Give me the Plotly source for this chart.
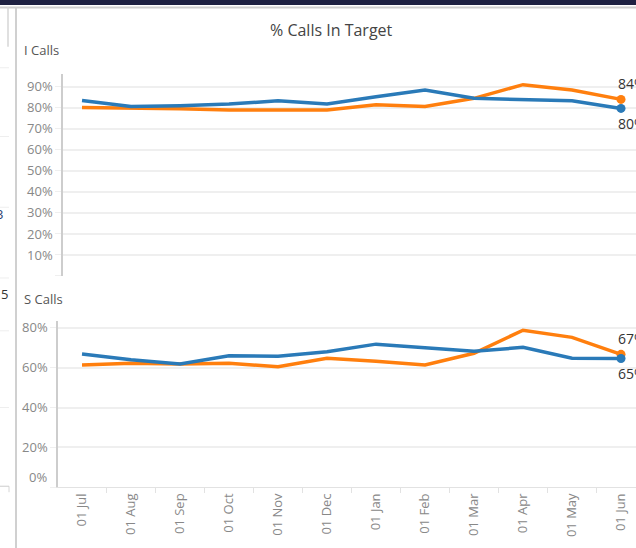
import plotly.graph_objects as go

# ---- data ----
months = ["01 Jul", "01 Aug", "01 Sep", "01 Oct", "01 Nov", "01 Dec",
          "01 Jan", "01 Feb", "01 Mar", "01 Apr", "01 May", "01 Jun"]
i_calls_blue = [0.835, 0.806, 0.810, 0.818, 0.833, 0.818, 0.853, 0.885, 0.845, 0.840, 0.833, 0.797]
i_calls_orange = [0.801, 0.800, 0.795, 0.790, 0.790, 0.789, 0.814, 0.806, 0.845, 0.910, 0.885, 0.840]
s_calls_blue = [0.668, 0.640, 0.618, 0.660, 0.657, 0.680, 0.718, 0.702, 0.682, 0.702, 0.647, 0.646]
s_calls_orange = [0.613, 0.622, 0.618, 0.622, 0.605, 0.647, 0.632, 0.613, 0.672, 0.788, 0.752, 0.667]
i_ticks = [0.0, 0.1, 0.2, 0.3, 0.4, 0.5, 0.6, 0.7, 0.8, 0.9]
s_ticks = [0.0, 0.2, 0.4, 0.6, 0.8]

BLUE = "#2a7ab8"
ORANGE = "#ff7f0e"
FONT = "Open Sans"
W, H = 636, 548

def px(x):
    return x / W

def py(y):
    return 1 - y / H

fig = go.Figure()
last = len(months) - 1

def add_series(vals, color, xa, ya):
    fig.add_trace(go.Scatter(
        x=months, y=vals, mode="lines", xaxis=xa, yaxis=ya,
        line=dict(color=color, width=3.5), hoverinfo="skip", showlegend=False))
    fig.add_trace(go.Scatter(
        x=[months[last]], y=[vals[last]], mode="markers", xaxis=xa, yaxis=ya,
        marker=dict(color=color, size=9), hoverinfo="skip", showlegend=False))

add_series(i_calls_orange, ORANGE, "x", "y")
add_series(i_calls_blue, BLUE, "x", "y")
add_series(s_calls_orange, ORANGE, "x2", "y2")
add_series(s_calls_blue, BLUE, "x2", "y2")

annotations = []

def end_label(vals_hi, vals_lo, xref, yref):
    for vals, shift in ((vals_hi, 16), (vals_lo, -15)):
        annotations.append(dict(
            x=months[last], y=vals[last], xref=xref, yref=yref,
            text=f"{round(vals[last] * 100)}%", showarrow=False,
            xanchor="left", yanchor="middle", xshift=-5, yshift=shift,
            font=dict(family=FONT, size=14, color="#333333")))

end_label(i_calls_orange, i_calls_blue, "x", "y")
end_label(s_calls_orange, s_calls_blue, "x2", "y2")

# titles
annotations.append(dict(x=px(331), y=py(28), xref="paper", yref="paper", text="% Calls In Target",
                        showarrow=False, xanchor="center", yanchor="middle",
                        font=dict(family=FONT, size=16, color="#444444")))
annotations.append(dict(x=px(22), y=py(48), xref="paper", yref="paper", text="I Calls",
                        showarrow=False, xanchor="left", yanchor="middle",
                        font=dict(family=FONT, size=13, color="#555555")))
annotations.append(dict(x=px(22), y=py(298), xref="paper", yref="paper", text="S Calls",
                        showarrow=False, xanchor="left", yanchor="middle",
                        font=dict(family=FONT, size=13, color="#555555")))
annotations.append(dict(x=px(49), y=py(477), xref="paper", yref="paper", text="0%",
                        showarrow=False, xanchor="right", yanchor="middle",
                        font=dict(family=FONT, size=13, color="#888888")))
# clipped fragments from the neighbouring sheet
annotations.append(dict(x=px(5), y=py(213), xref="paper", yref="paper", text="3",
                        showarrow=False, xanchor="right", yanchor="middle",
                        font=dict(family=FONT, size=13, color="#2c3e70")))
annotations.append(dict(x=px(10), y=py(293), xref="paper", yref="paper", text="5",
                        showarrow=False, xanchor="right", yanchor="middle",
                        font=dict(family=FONT, size=13, color="#333333")))

shapes = [
    dict(type="rect", xref="paper", yref="paper", x0=0, x1=1, y0=py(3), y1=1.01,
         fillcolor="#1e2142", line=dict(width=0)),
    dict(type="line", xref="paper", yref="paper", x0=0, x1=1, y0=py(5.5), y1=py(5.5),
         line=dict(color="#cfcfcf", width=2)),
    dict(type="line", xref="paper", yref="paper", x0=px(16), x1=px(16), y0=py(5), y1=0,
         line=dict(color="#d0d0d0", width=2)),
    dict(type="line", xref="paper", yref="paper", x0=px(8), x1=px(8), y0=py(5), y1=py(45),
         line=dict(color="#d6d6d6", width=1.5)),
    dict(type="line", xref="paper", yref="paper", x0=px(9), x1=px(9), y0=py(486), y1=py(492),
         line=dict(color="#d6d6d6", width=1)),
]
for yy, col in ((66, "#eeeeee"), (135, "#eeeeee"), (206, "#eeeeee"), (277, "#eeeeee"),
                (330, "#eeeeee"), (407, "#eeeeee"), (486, "#cccccc")):
    shapes.append(dict(type="line", xref="paper", yref="paper", x0=0, x1=px(9), y0=py(yy), y1=py(yy),
                       line=dict(color=col, width=1)))

tickfont = dict(family=FONT, size=13, color="#888888")
GRID = "#efefef"
AXLINE = "#cdcdcd"

fig.update_layout(
    width=W, height=H, margin=dict(l=0, r=0, t=0, b=0),
    paper_bgcolor="white", plot_bgcolor="white",
    showlegend=False,
    xaxis=dict(domain=[px(63), 1], type="category", range=[-0.388, 11.306],
               showticklabels=False, showgrid=False, zeroline=False, showline=False,
               ticks="", anchor="y"),
    yaxis=dict(domain=[py(275), py(72)], range=[0, 0.962], tickvals=i_ticks,
               ticktext=["" if v == 0 else f"{round(v * 100)}%" for v in i_ticks],
               showgrid=True, gridcolor=GRID, gridwidth=1.5, zeroline=False,
               showline=True, linecolor=AXLINE, linewidth=1.5,
               ticks="outside", ticklen=6, tickcolor=GRID, tickfont=tickfont, anchor="x"),
    xaxis2=dict(domain=[px(58), 1], type="category", range=[-0.49, 11.306],
                showgrid=False, zeroline=False, showline=True, linecolor="#e2e2e2",
                ticks="outside", tickson="boundaries", ticklen=5, tickcolor="#e2e2e2",
                tickangle=-90, tickfont=tickfont, anchor="y2"),
    yaxis2=dict(domain=[py(487), py(320)], range=[0, 0.835], tickvals=s_ticks,
                ticktext=["" if v == 0 else f"{round(v * 100)}%" for v in s_ticks],
                showgrid=True, gridcolor=GRID, gridwidth=1.5, zeroline=False,
                showline=True, linecolor=AXLINE, linewidth=1.5,
                ticks="outside", ticklen=6, tickcolor=GRID, tickfont=tickfont, anchor="x2"),
    annotations=annotations,
    shapes=shapes,
)

fig.write_html("out.html", config={"displayModeBar": False},
               post_script="document.body.style.margin='0';document.body.style.overflow='hidden';")
